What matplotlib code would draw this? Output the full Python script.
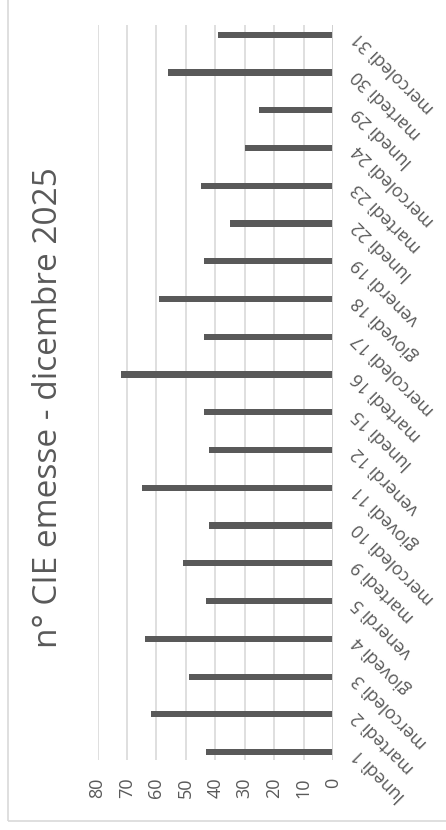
import matplotlib
matplotlib.use('Agg')
import matplotlib.pyplot as plt
from matplotlib.patches import Rectangle

# data: daily CIE issued, december 2025 (working days only)
days = ['lunedì 1', 'martedì 2', 'mercoledì 3', 'giovedì 4', 'venerdì 5',
        'martedì 9', 'mercoledì 10', 'giovedì 11', 'venerdì 12',
        'lunedì 15', 'martedì 16', 'mercoledì 17', 'giovedì 18', 'venerdì 19',
        'lunedì 22', 'martedì 23', 'mercoledì 24',
        'lunedì 29', 'martedì 30', 'mercoledì 31']
counts = [43, 62, 49, 64, 43, 51, 42, 65, 42, 44, 72, 44, 59, 44,
          35, 45, 30, 25, 56, 39]
value_ticks = [0, 10, 20, 30, 40, 50, 60, 70, 80]
title = 'n° CIE emesse - dicembre 2025'

TEXT = '#595959'
BAR = '#595959'
GRID = '#d9d9d9'

plt.rcParams['font.family'] = ['Open Sans', 'DejaVu Sans']

fig = plt.figure(figsize=(4.46, 8.30), dpi=100)
ax = fig.add_axes([0.2188, 0.0712, 0.5278, 0.9097])

# chart area border (only left and bottom edges are inside the picture)
fig.patches.append(Rectangle((8 / 446, 9 / 830), 1.0, 1.0, transform=fig.transFigure,
                             fill=False, edgecolor='#d9d9d9', linewidth=1.2))

pos = list(range(len(days)))
ax.barh(pos, counts, height=0.16, color=BAR, zorder=3)

ax.set_xlim(80, 0)
ax.set_ylim(-0.5, len(days) - 0.5)

# gridlines and category axis line
ax.vlines(value_ticks[1:], -0.21, len(days) - 0.75, color=GRID, linewidth=1.2, zorder=1)
ax.vlines([0], -0.21, len(days) - 0.75, color='#d0d0d0', linewidth=1.4, zorder=4)

for s in ax.spines.values():
    s.set_visible(False)

ax.set_xticks(value_ticks)
ax.set_xticklabels([str(v) for v in value_ticks], rotation=90, fontsize=13, color=TEXT)
ax.tick_params(axis='x', length=0, pad=5)

ax.yaxis.tick_right()
ax.set_yticks(pos)
ax.set_yticklabels(days, fontsize=12.8, color=TEXT)
ax.tick_params(axis='y', length=0, pad=16)
plt.setp(ax.get_yticklabels(), rotation=135, ha='right', va='center',
         rotation_mode='anchor')

fig.text(49 / 446, 1 - 408 / 830, title, rotation=90, ha='center', va='center',
         fontsize=24, color=TEXT)

fig.savefig('out.png', dpi=100)
